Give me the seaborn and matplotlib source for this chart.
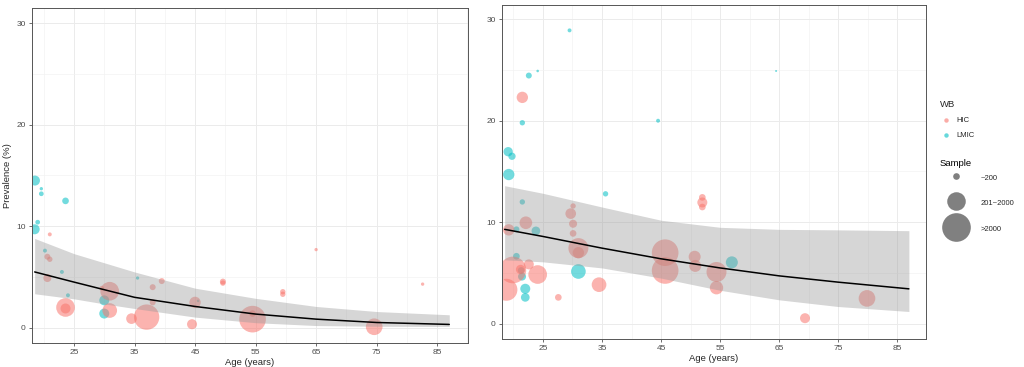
import numpy as np
import pandas as pd
import matplotlib
matplotlib.use("Agg")
import matplotlib.pyplot as plt
from matplotlib.lines import Line2D
from matplotlib.ticker import MultipleLocator
import seaborn as sns

# ---- left panel: study points ----
left_age = [18.55, 19.6, 19.6, 23.6, 19.0, 18.5, 20.2, 23.0, 24.0, 35.5, 30.0, 30.0, 45.5,
            21.0, 20.6, 21.0, 20.6, 23.6, 23.6, 29.6, 30.9, 30.9, 34.5, 37.0, 38.0, 38.0,
            39.5, 44.5, 45.0, 49.6, 49.6, 54.5, 54.5, 59.5, 59.5, 65.0, 74.6, 82.6]
left_prev = [14.5, 13.7, 13.2, 12.5, 10.4, 9.7, 7.6, 5.5, 3.2, 4.9, 2.7, 1.4, 2.65,
             9.2, 7.0, 6.75, 4.9, 2.0, 1.9, 3.9, 3.6, 1.7, 0.9, 1.05, 4.0, 2.5,
             4.6, 0.35, 2.5, 4.55, 4.4, 0.85, 1.4, 3.55, 3.3, 7.7, 0.1, 4.3]
left_sample = [450, 50, 100, 200, 100, 450, 70, 70, 70, 50, 450, 450, 30,
               70, 160, 130, 290, 1570, 450, 100, 1570, 970, 510, 2890, 160, 160,
               160, 450, 580, 160, 130, 3200, 200, 130, 130, 50, 1250, 50]
left_wb = ["LMIC"] * 13 + ["HIC"] * 25

# ---- left panel: fitted curve and 95% band ----
left_fit_age = [18.5, 25, 30, 35, 45, 55, 65, 75, 87]
left_fit = [5.5, 4.5, 3.75, 3.0, 2.1, 1.35, 0.85, 0.52, 0.33]
left_upper = [8.8, 7.3, 6.4, 5.5, 3.9, 2.9, 2.1, 1.6, 1.28]
left_lower = [3.35, 2.85, 2.35, 1.9, 1.05, 0.5, 0.22, 0.15, 0.13]

# ---- right panel: study points ----
right_age = [29.5, 24.1, 22.6, 21.5, 44.5, 19.1, 19.75, 19.2, 35.6, 21.5, 20.5, 23.8,
             20.5, 21.45, 22.0, 22.0, 31.0, 57.0, 64.5, 21.3,
             21.5, 30.1, 29.7, 30.1, 30.1, 19.2, 22.1, 19.9, 18.8, 21.2, 22.6, 24.1,
             27.6, 31.0, 31.0, 34.5, 45.7, 45.7, 50.7, 50.8, 52.0, 52.0, 52.0, 54.4,
             54.4, 69.4, 79.9]
right_prev = [28.9, 24.9, 24.45, 19.8, 20.0, 16.95, 16.5, 14.7, 12.8, 12.0, 9.3, 9.15,
              6.65, 4.65, 3.45, 2.6, 5.15, 6.05, 24.9, 5.25,
              22.3, 11.6, 10.85, 9.85, 8.9, 9.25, 9.95, 5.3, 3.35, 5.35, 5.85, 4.85,
              2.6, 7.45, 7.0, 3.85, 7.0, 5.25, 6.6, 5.7, 12.45, 11.95, 11.5, 5.1,
              3.55, 0.55, 2.5]
right_sample = [70, 30, 160, 130, 70, 390, 240, 580, 130, 130, 160, 340,
                200, 290, 450, 340, 970, 650, 18, 200,
                580, 130, 510, 290, 200, 580, 720, 3200, 2180, 390, 450, 1570,
                200, 1800, 580, 970, 3200, 3200, 650, 650, 200, 450, 200, 1800,
                800, 450, 1250]
right_wb = ["LMIC"] * 20 + ["HIC"] * 27

right_fit_age = [18.5, 25, 35, 45, 55, 65, 75, 87]
right_fit = [9.3, 8.6, 7.45, 6.4, 5.5, 4.72, 4.1, 3.44]
right_upper = [13.6, 12.85, 11.5, 10.2, 9.5, 9.3, 9.25, 9.17]
right_lower = [6.3, 6.1, 5.5, 4.5, 3.3, 2.36, 1.7, 1.21]

wb_order = ["HIC", "LMIC"]
palette = {"HIC": "#F8766D", "LMIC": "#00BFC4"}
size_labels = ["~200", "201~2000", ">2000"]
size_keys = [200, 1550, 3700]

sns.set_theme(style="white")
plt.rcParams["font.family"] = ["Liberation Sans", "DejaVu Sans"]

fig = plt.figure(figsize=(10.24, 3.67), dpi=100)
ax_l = fig.add_axes([0.03125, 0.0654, 0.4258, 0.9128])
ax_r = fig.add_axes([0.4902, 0.0763, 0.4141, 0.9101])

SMAX = 460
NMAX = 4000


def draw_panel(ax, age, prev, sample, wb, fage, fit, lo, hi, xlim, ylim):
    df = pd.DataFrame({"age": age, "prev": prev, "sample": sample, "wb": wb})
    sns.scatterplot(data=df, x="age", y="prev", hue="wb", hue_order=wb_order,
                    palette=palette, size="sample", sizes=(0, SMAX),
                    size_norm=(0, NMAX), alpha=0.55, linewidth=0,
                    legend=False, ax=ax)
    ax.collections[-1].set_zorder(2)
    band = ax.fill_between(fage, lo, hi, color="#999999", alpha=0.4, linewidth=0)
    band.set_zorder(4)
    sns.lineplot(x=fage, y=fit, color="black", linewidth=1.1, ax=ax)
    ax.lines[-1].set_zorder(5)
    ax.set_xlim(*xlim)
    ax.set_ylim(*ylim)
    ax.set_xticks([25, 35, 45, 55, 65, 75, 85])
    ax.set_yticks([0, 10, 20, 30])
    ax.xaxis.set_minor_locator(MultipleLocator(10))
    ax.yaxis.set_minor_locator(MultipleLocator(5))
    ax.grid(True, which="major", color="#EBEBEB", linewidth=0.7, zorder=0)
    ax.grid(True, which="minor", color="#F2F2F2", linewidth=0.45, zorder=0)
    ax.set_axisbelow(True)
    for s in ax.spines.values():
        s.set_color("#555555")
        s.set_linewidth(0.7)
    ax.tick_params(axis="both", which="major", length=2.5, width=0.5, color="#333333",
                   labelsize=6.0, labelcolor="#4D4D4D", pad=2, bottom=True, left=True)
    ax.tick_params(axis="both", which="minor", length=0)
    ax.set_xlabel("Age (years)", fontsize=6.8, labelpad=1)
    ax.set_ylabel("")


draw_panel(ax_l, left_age, left_prev, left_sample, left_wb,
           left_fit_age, left_fit, left_lower, left_upper, (18.06, 90.1), (-1.5, 31.5))
draw_panel(ax_r, right_age, right_prev, right_sample, right_wb,
           right_fit_age, right_fit, right_lower, right_upper, (18.05, 89.9), (-1.5, 31.4))
ax_l.set_ylabel("Prevalence (%)", fontsize=6.8, labelpad=3)

# legends
wb_handles = [Line2D([], [], linestyle="", marker="o", markersize=3.2, markeredgewidth=0,
                     color=palette[k], alpha=0.6) for k in wb_order]
fig.legend(wb_handles, wb_order, title="WB", loc="upper left",
           bbox_to_anchor=(0.911, 0.745), frameon=False, fontsize=5.5,
           title_fontsize=6.8, handlelength=1.6, handletextpad=0.6,
           labelspacing=1.0, alignment="left")

fig.text(940 / 1024, 1 - 164 / 367, "Sample", fontsize=6.8, ha="left", va="center",
         color="black")
size_handles = [Line2D([], [], linestyle="", marker="o",
                       markersize=np.sqrt(SMAX * n / NMAX),
                       markeredgewidth=0, color="#808080") for n in size_keys]
fig.legend(size_handles, size_labels, loc="upper left",
           bbox_to_anchor=(940 / 1024, 1 - 172 / 367), frameon=False, fontsize=5.5,
           handlelength=4.3, handleheight=1.9, borderpad=0, borderaxespad=0,
           handletextpad=1.0, labelspacing=1.83)

fig.savefig("out.png", dpi=100)
